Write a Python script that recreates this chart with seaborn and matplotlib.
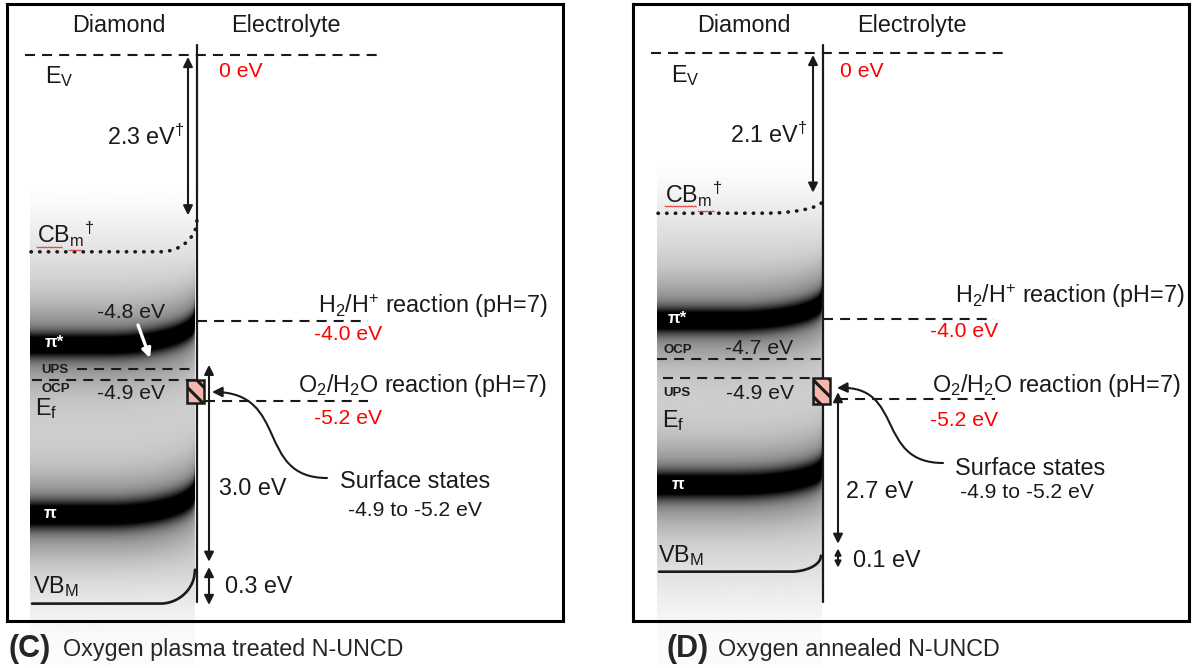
import numpy as np
import matplotlib
matplotlib.use("Agg")
import matplotlib.pyplot as plt
import seaborn as sns
from matplotlib.patches import Rectangle, FancyArrowPatch
from matplotlib.path import Path

# ------------------------------------------------------------------ data (eV)
panel_letters = ["(C)", "(D)"]
panel_titles = ["Oxygen plasma treated N-UNCD", "Oxygen annealed N-UNCD"]
vacuum_level = [0.0, 0.0]
h2_level = [-4.0, -4.0]
o2_level = [-5.2, -5.2]
h2_text = ["-4.0 eV", "-4.0 eV"]
o2_text = ["-5.2 eV", "-5.2 eV"]
cbm_gap_text = ["2.3 eV$^{†}$", "2.1 eV$^{†}$"]
cbm_arrow_end = [-2.41, -2.10]
cbm_bulk = [-2.96, -2.41]
cbm_surface = [-2.48, -2.21]
upper_level_drawn = [-4.72, -4.60]     # C: UPS, D: OCP
lower_level_drawn = [-4.88, -4.89]     # C: OCP, D: UPS
upper_level_name = ["UPS", "OCP"]
lower_level_name = ["OCP", "UPS"]
upper_level_text = ["-4.8 eV", "-4.7 eV"]
lower_level_text = ["-4.9 eV", "-4.9 eV"]
surface_state_top = [-4.89, -4.89]
surface_state_bottom = [-5.23, -5.28]
surface_state_text = "-4.9 to -5.2 eV"
gap_text = ["3.0 eV", "2.7 eV"]
bend_text = ["0.3 eV", "0.1 eV"]
gap_arrow_top = [-4.66, -5.10]
gap_arrow_bottom = [-7.62, -7.38]
bend_arrow_top = [-7.70, -7.45]
bend_arrow_bottom = [-8.27, -7.74]
vbm_bulk = [-8.25, -7.80]
vbm_surface = [-7.74, -7.56]
pistar_bulk = [-4.36, -4.02]
pistar_surface = [-3.98, -3.71]
pi_bulk = [-6.92, -6.50]
pi_surface = [-6.54, -6.23]

# ------------------------------------------------------------------ layout
FIG_W, FIG_H = 1194, 668
S = 66.5                       # px per eV
box_left = [7, 633]
box_top, box_bottom, box_w = 4, 621, 556
zero_py = [55, 53]

layout = [
    dict(diamond=111.5, electrolyte=279, ev=38, ev_b=83, zero=212, zero_b=77,
         gap_l=100, gap_b=145, cbm_l=30, cbm_b=243, cbm_x0=153,
         up_txt=90, up_b=318, lo_txt=90, lo_b=399, name_x=34, up_name_b=373, lo_name_b=392,
         pistar_x=38, pistar_b=347, pi_x=37, pi_b=518, ef_x=28, ef_b=415,
         h2_x=311, h2_b=313, h2v_x=307, h2v_b=340, o2_x=291, o2_b=392, o2v_x=307, o2v_b=424,
         gapv_x=212, gapv_b=495, bendv_x=218, bendv_b=593, vbm_x=26, vbm_b=593, vbm_x0=153,
         ss_x=333, ss_b=488, ssv_x=341, ssv_b=516,
         up_line=(70, 190), lo_line=(25, 190), o2_line=(198, 361), vb_arrow_x=202,
         cbm_arrow_x=181, shade=(23, 188, 175, 665),
         curve=[(320, 478), (248, 478), (283, 392), (205, 392)],
         white_arrow=[(131, 325), (143, 358)],
         squiggle=[(30, 56, 247), (62, 75, 250)]),
    dict(diamond=110.5, electrolyte=279, ev=38, ev_b=82, zero=207, zero_b=77,
         gap_l=97, gap_b=143, cbm_l=32, cbm_b=203, cbm_x0=130,
         up_txt=92, up_b=354, lo_txt=93, lo_b=399, name_x=30, up_name_b=353, lo_name_b=396,
         pistar_x=35, pistar_b=323, pi_x=39, pi_b=489, ef_x=29, ef_b=427,
         h2_x=322, h2_b=303, h2v_x=297, h2v_b=337, o2_x=299, o2_b=392, o2v_x=297, o2v_b=426,
         gapv_x=213, gapv_b=498, bendv_x=220, bendv_b=567, vbm_x=25, vbm_b=562, vbm_x0=157,
         ss_x=322, ss_b=475, ssv_x=327, ssv_b=498,
         up_line=(24, 190), lo_line=(30, 182), o2_line=(205, 362), vb_arrow_x=205,
         cbm_arrow_x=180, shade=(24, 189, 145, 665),
         curve=[(310, 463), (242, 463), (272, 385), (204, 388)],
         white_arrow=None,
         squiggle=[(32, 64, 206), (65, 82, 211)]),
]

# ------------------------------------------------------------------ style
sns.set_theme(style="white")
plt.rcParams["font.family"] = ["Liberation Sans", "DejaVu Sans"]
plt.rcParams["mathtext.fontset"] = "custom"
plt.rcParams["mathtext.rm"] = "Liberation Sans"
plt.rcParams["mathtext.it"] = "Liberation Sans"
plt.rcParams["mathtext.bf"] = "Liberation Sans:bold"
plt.rcParams["mathtext.default"] = "regular"
plt.rcParams["hatch.linewidth"] = 2.2

DASH = (0, (4.8, 3.4))
BIG, MID = 16.8, 15.2


def qbend(x, x0, x1):
    t = np.clip((np.asarray(x, float) - x0) / (x1 - x0), 0, 1)
    return 1 - np.sqrt(1 - t ** 2)


def smooth(t):
    t = np.clip(t, 0, 1)
    return t * t * (3 - 2 * t)


fig = plt.figure(figsize=(FIG_W / 100, FIG_H / 100), dpi=100)

for i in range(2):
    L = layout[i]
    y0 = zero_py[i]

    def P(py, y0=y0):
        return -(py - y0) / S

    def PY(e, y0=y0):
        return y0 - e * S

    ax = fig.add_axes([box_left[i] / FIG_W, 1 - box_bottom / FIG_H,
                       box_w / FIG_W, (box_bottom - box_top) / FIG_H])
    ax.set_xlim(0, box_w)
    ax.set_ylim(P(box_bottom), P(box_top))
    ax.set_xticks([])
    ax.set_yticks([])
    for sp in ax.spines.values():
        sp.set_color("black")
        sp.set_linewidth(2.2)

    # --- shaded density of states
    sx0, sx1, sy0, sy1 = L["shade"]
    xs = np.arange(sx0, sx1 + 1, 1.0)
    ys = np.arange(sy0, sy1 + 1, 1.0)
    X, Y = np.meshgrid(xs, ys)
    dark = np.full_like(X, 0.19)
    for bulk, surf, w in [(pistar_bulk[i], pistar_surface[i], 8.5),
                          (pi_bulk[i], pi_surface[i], 9.5)]:
        cb, cs = PY(bulk), PY(surf)
        c = cb - (cb - cs) * qbend(X, 100, sx1)
        dark += 0.75 * np.exp(-0.5 * ((Y - c) / w) ** 2) + 0.34 * np.exp(-0.5 * ((Y - c) / 27) ** 2)
    top_c = PY(pistar_bulk[i])
    fade_t = smooth((Y - (top_c - 170)) / 135)
    vb_py = PY(vbm_bulk[i])
    fade_b = 1 - 0.9 * smooth((Y - (vb_py - 60)) / (sy1 - vb_py + 40))
    dark = np.clip(dark * fade_t * fade_b, 0, 1)
    ax.imshow(1 - dark, cmap="gray", vmin=0, vmax=1, aspect="auto",
              extent=[sx0, sx1, P(sy1), P(sy0)], interpolation="bilinear",
              zorder=0, clip_on=False)

    # --- interface line
    ax.plot([190, 190], [P(45), P(602)], color="k", lw=1.6, zorder=3)

    # --- level lines
    ax.plot([18, 373], [vacuum_level[i]] * 2, color="k", lw=1.5, ls=DASH)
    ax.plot([190, 361], [h2_level[i]] * 2, color="k", lw=1.5, ls=DASH)
    ax.plot(list(L["o2_line"]), [o2_level[i]] * 2, color="k", lw=1.5, ls=DASH)
    ax.plot(list(L["up_line"]), [upper_level_drawn[i]] * 2, color="k", lw=1.5, ls=DASH)
    ax.plot(list(L["lo_line"]), [lower_level_drawn[i]] * 2, color="k", lw=1.5, ls=DASH)

    # --- conduction band minimum (dotted) and valence band maximum (solid)
    xc = np.linspace(L["shade"][0] + 1, 190, 200)
    yc = cbm_bulk[i] + (cbm_surface[i] - cbm_bulk[i]) * qbend(xc, L["cbm_x0"], 190)
    sns.lineplot(x=xc, y=yc, ax=ax, color="k", lw=2.6, linestyle=(0, (0.1, 2.3)),
                 dash_capstyle="round", sort=False, zorder=4)
    xv = np.linspace(L["shade"][0] + 2, 188, 200)
    yv = vbm_bulk[i] + (vbm_surface[i] - vbm_bulk[i]) * qbend(xv, L["vbm_x0"], 188)
    sns.lineplot(x=xv, y=yv, ax=ax, color="k", lw=1.9, sort=False, zorder=4)

    # --- surface states box
    ax.add_patch(Rectangle((180, surface_state_bottom[i]), 17,
                           surface_state_top[i] - surface_state_bottom[i],
                           facecolor="#f4b6ad", edgecolor="k", lw=1.8, hatch="\\\\", zorder=5))

    # --- arrows
    ap = dict(color="k", lw=1.5, shrinkA=0, shrinkB=0)
    ax.annotate("", xy=(L["cbm_arrow_x"], cbm_arrow_end[i]),
                xytext=(L["cbm_arrow_x"], vacuum_level[i] - 0.03),
                arrowprops=dict(arrowstyle="<|-|>", mutation_scale=14, **ap))
    ax.annotate("", xy=(L["vb_arrow_x"], gap_arrow_bottom[i]),
                xytext=(L["vb_arrow_x"], gap_arrow_top[i]),
                arrowprops=dict(arrowstyle="<|-|>", mutation_scale=14, **ap))
    small = 14 if (bend_arrow_top[i] - bend_arrow_bottom[i]) > 0.4 else 9
    ax.annotate("", xy=(L["vb_arrow_x"], bend_arrow_bottom[i]),
                xytext=(L["vb_arrow_x"], bend_arrow_top[i]),
                arrowprops=dict(arrowstyle="<|-|>", mutation_scale=small, **ap))
    cv = [(x, P(py)) for x, py in L["curve"]]
    ax.add_patch(FancyArrowPatch(path=Path(cv, [Path.MOVETO, Path.CURVE4, Path.CURVE4, Path.CURVE4]),
                                 arrowstyle="-|>", mutation_scale=15, lw=1.5, color="k", zorder=6))
    if L["white_arrow"] is not None:
        (ax1, ay1), (ax2, ay2) = L["white_arrow"]
        ax.annotate("", xy=(ax2, P(ay2)), xytext=(ax1, P(ay1)),
                    arrowprops=dict(arrowstyle="-|>", color="white", lw=2.4,
                                    mutation_scale=13, shrinkA=0, shrinkB=0))

    # --- red spell-check squiggles under CBm
    for xa, xb, py in L["squiggle"]:
        xq = np.arange(xa, xb + 0.1, 1.5)
        yq = P(py + 1.0 * (np.arange(len(xq)) % 2))
        ax.plot(xq, yq, color="#e03030", lw=0.7, zorder=6)

    # --- texts
    def T(x, pyb, s, size=BIG, color="k", **kw):
        ax.text(x, P(pyb), s, fontsize=size, color=color, va="baseline", ha=kw.pop("ha", "left"),
                clip_on=False, zorder=7, **kw)

    T(L["diamond"], 32, "Diamond", ha="center")
    T(L["electrolyte"], 32, "Electrolyte", ha="center")
    T(L["ev"], L["ev_b"], "E$_V$", size=BIG)
    T(L["zero"], L["zero_b"], f"{vacuum_level[i]:.0f} eV", size=MID, color="red")
    T(L["gap_l"], L["gap_b"], cbm_gap_text[i], size=BIG)
    T(L["cbm_l"], L["cbm_b"], "CB$_m$$^{†}$", size=BIG)
    T(L["up_txt"], L["up_b"], upper_level_text[i], size=MID)
    T(L["lo_txt"], L["lo_b"], lower_level_text[i], size=MID)
    T(L["name_x"], L["up_name_b"], upper_level_name[i], size=9.5, fontweight="bold")
    T(L["name_x"], L["lo_name_b"], lower_level_name[i], size=9.5, fontweight="bold")
    T(L["pistar_x"], L["pistar_b"], "π*", size=12, color="white", fontweight="bold")
    T(L["pi_x"], L["pi_b"], "π", size=12, color="white", fontweight="bold")
    T(L["ef_x"], L["ef_b"], "E$_f$", size=BIG)
    T(L["h2_x"], L["h2_b"], "H$_2$/H$^{+}$ reaction (pH=7)", size=BIG)
    T(L["h2v_x"], L["h2v_b"], h2_text[i], size=MID, color="red")
    T(L["o2_x"], L["o2_b"], "O$_2$/H$_2$O reaction (pH=7)", size=BIG)
    T(L["o2v_x"], L["o2v_b"], o2_text[i], size=MID, color="red")
    T(L["gapv_x"], L["gapv_b"], gap_text[i], size=BIG)
    T(L["bendv_x"], L["bendv_b"], bend_text[i], size=BIG)
    T(L["vbm_x"], L["vbm_b"], "VB$_M$", size=BIG)
    T(L["ss_x"], L["ss_b"], "Surface states", size=BIG)
    T(L["ssv_x"], L["ssv_b"], surface_state_text, size=MID)

# --- captions
cap_x = [(8, 63), (667, 718)]
for i in range(2):
    fig.text(cap_x[i][0] / FIG_W, 1 - 657 / FIG_H, panel_letters[i], fontsize=22,
             fontweight="bold", va="baseline", ha="left")
    fig.text(cap_x[i][1] / FIG_W, 1 - 656 / FIG_H, panel_titles[i], fontsize=BIG,
             va="baseline", ha="left")

fig.savefig("out.png", dpi=100, facecolor="white")
